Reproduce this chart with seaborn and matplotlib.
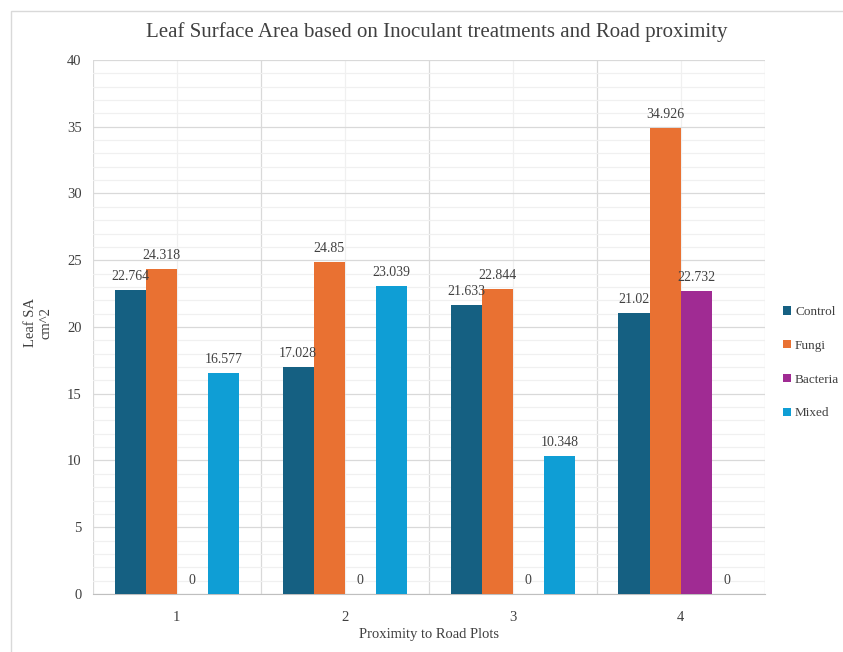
import numpy as np
import pandas as pd
import seaborn as sns
import matplotlib.pyplot as plt
from matplotlib.patches import Rectangle, Patch
from matplotlib.ticker import MultipleLocator, FixedLocator

plots = ['1', '2', '3', '4']
treatments = ['Control', 'Fungi', 'Bacteria', 'Mixed']
control = [22.764, 17.028, 21.633, 21.02]
fungi = [24.318, 24.85, 22.844, 34.926]
bacteria = [0, 0, 0, 22.732]
mixed = [16.577, 23.039, 10.348, 0]
colors = ['#156082', '#E97132', '#A02B93', '#0F9ED5']

rows = []
for t, vals in zip(treatments, [control, fungi, bacteria, mixed]):
    for p, v in zip(plots, vals):
        rows.append({'plot': p, 'treatment': t, 'sa': v})
df = pd.DataFrame(rows)

sns.set_style('white')
plt.rcParams['font.family'] = ['Liberation Serif', 'DejaVu Serif']
txt = '#404040'

fig = plt.figure(figsize=(8.43, 6.52), dpi=100)
ax = fig.add_axes([0.110, 0.089, 0.797, 0.819])

sns.barplot(data=df, x='plot', y='sa', hue='treatment', order=plots,
            hue_order=treatments, palette=colors, width=0.74, saturation=1,
            edgecolor='none', legend=False, ax=ax, zorder=3)

for cont in ax.containers:
    ax.bar_label(cont, labels=[f'{v:g}' for v in cont.datavalues],
                 padding=5, fontsize=10, color=txt)

ax.set_xlim(-0.5, 3.5)
ax.set_ylim(0, 40)
ax.yaxis.set_major_locator(MultipleLocator(5))
ax.yaxis.set_minor_locator(MultipleLocator(1))
ax.xaxis.set_minor_locator(FixedLocator([-0.5, 0.5, 1.5, 2.5, 3.5]))
ax.grid(which='major', axis='y', color='#d9d9d9', lw=0.9, zorder=0)
ax.grid(which='minor', axis='y', color='#f0f0f0', lw=0.9, zorder=0)
ax.grid(which='minor', axis='x', color='#d9d9d9', lw=0.9, zorder=0)
ax.grid(which='major', axis='x', color='#f0f0f0', lw=0.9, zorder=0)
ax.set_axisbelow(True)
for s in ['top', 'right', 'left']:
    ax.spines[s].set_visible(False)
ax.spines['bottom'].set_color('#bfbfbf')
ax.tick_params(axis='y', which='both', length=0, pad=8, labelsize=10.5, labelcolor=txt)
ax.tick_params(axis='x', which='major', length=0, pad=12, labelsize=10.5, labelcolor=txt)
ax.tick_params(axis='x', which='minor', length=5, color='#bfbfbf', direction='out')

ax.set_xlabel('Proximity to Road Plots', fontsize=10.5, color=txt, labelpad=3)
ax.set_ylabel('')
fig.text(38 / 843, 0.505, 'Leaf SA\ncm^2', rotation=90, ha='center', va='center',
         fontsize=10.5, color=txt, linespacing=1.2)
fig.text(0.518, 1 - 32 / 652, 'Leaf Surface Area based on Inoculant treatments and Road proximity',
         ha='center', va='center', fontsize=15, color=txt)

handles = [Patch(facecolor=c, edgecolor='none') for c in colors]
ax.legend(handles, treatments, loc='center left', bbox_to_anchor=(1.01, 0.433),
          frameon=False, fontsize=9.5, handlelength=0.6, handleheight=0.6,
          handletextpad=0.3, labelspacing=1.65, labelcolor=txt)

fig.add_artist(Rectangle((11 / 843, -0.1), 1.2, 1 - 11 / 652 + 0.1,
                         transform=fig.transFigure, fill=False,
                         edgecolor='#d9d9d9', lw=1))

fig.savefig('out.png', dpi=100)
